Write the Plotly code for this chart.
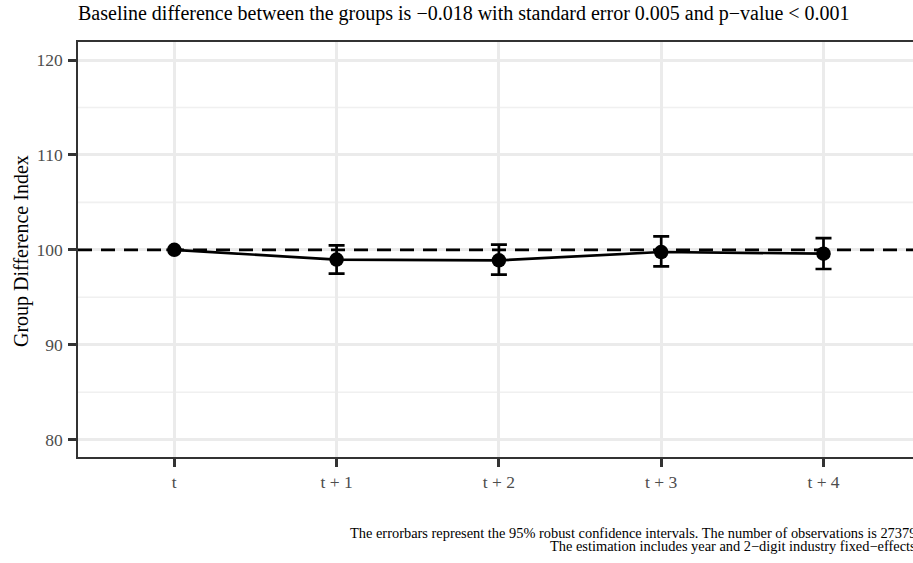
import plotly.graph_objects as go

periods = ["t", "t + 1", "t + 2", "t + 3", "t + 4"]
index_values = [100.0, 98.97, 98.89, 99.77, 99.60]
ci_upper = [100.0, 100.47, 100.55, 101.42, 101.24]
ci_lower = [100.0, 97.49, 97.39, 98.26, 97.98]
y_ticks = [80, 90, 100, 110, 120]
y_minor = [85, 95, 105, 115]
baseline = 100

title_text = "Baseline difference between the groups is \u22120.018 with standard error 0.005 and p\u2212value < 0.001"
y_title = "Group Difference Index"
caption_1 = "The errorbars represent the 95% robust confidence intervals. The number of observations is 27379"
caption_2 = "The estimation includes year and 2\u2212digit industry fixed\u2212effects"

xpos = list(range(1, len(periods) + 1))
err_plus = [u - v for u, v in zip(ci_upper, index_values)]
err_minus = [v - l for v, l in zip(index_values, ci_lower)]

W, H = 913, 563
ml, mt, mb = 78, 42, 563 - 457
pw, ph = W - ml, H - mt - mb
px_per_unit = 162.3
x_left = 1 - (174.3 - ml) / px_per_unit
x_right = x_left + pw / px_per_unit


def px_x(p):
    return (p - ml) / pw


def px_y(p):
    return (H - mb - p) / ph


fig = go.Figure()

# minor grid lines
for v in y_minor:
    fig.add_shape(type="line", xref="paper", x0=0, x1=1, yref="y", y0=v, y1=v,
                  line=dict(color="#f0f0f0", width=1.6), layer="below")

# baseline dashed line
fig.add_trace(go.Scatter(
    x=[x_left, x_right], y=[baseline, baseline], mode="lines",
    line=dict(color="black", width=2.8, dash="14px,9px"),
    hoverinfo="skip", showlegend=False))

fig.add_trace(go.Scatter(
    x=xpos, y=index_values, mode="lines+markers",
    line=dict(color="black", width=2.7),
    marker=dict(color="black", size=14.5),
    error_y=dict(type="data", symmetric=False, array=err_plus, arrayminus=err_minus,
                 color="black", thickness=2.7, width=8),
    showlegend=False, cliponaxis=False))

fig.update_layout(
    width=W, height=H,
    margin=dict(l=ml, r=0, t=mt, b=mb),
    plot_bgcolor="white", paper_bgcolor="white",
    font=dict(family="Liberation Serif", color="#4d4d4d"),
    xaxis=dict(range=[x_left, x_right], tickvals=xpos, ticktext=periods,
               showgrid=True, gridcolor="#ebebeb", gridwidth=3, zeroline=False,
               showline=True, linecolor="#333333", linewidth=1.7, mirror=True,
               ticks="outside", ticklen=8, tickwidth=2.7, tickcolor="#333333",
               tickfont=dict(size=17.5, color="#4d4d4d")),
    yaxis=dict(range=[78.17, 121.9], tickvals=y_ticks,
               showgrid=True, gridcolor="#ebebeb", gridwidth=3, zeroline=False,
               showline=True, linecolor="#333333", linewidth=1.7,
               ticks="outside", ticklen=8, tickwidth=2.7, tickcolor="#333333",
               ticklabelstandoff=2,
               tickfont=dict(size=17.5, color="#4d4d4d")),
)

fig.add_annotation(text=title_text, xref="paper", yref="paper", x=px_x(76),
                   y=px_y(13), xanchor="left", yanchor="middle",
                   showarrow=False, font=dict(size=20, color="black", family="Liberation Serif"))

fig.add_annotation(text=y_title, xref="paper", yref="paper", x=px_x(21), y=px_y(251),
                   xanchor="center", yanchor="middle", textangle=-90, showarrow=False,
                   font=dict(size=20, color="black", family="Liberation Serif"))

fig.add_annotation(text=caption_1, xref="paper", yref="paper",
                   x=px_x(918), y=px_y(533), xanchor="right", yanchor="middle",
                   showarrow=False, font=dict(size=14.4, color="black", family="Liberation Serif"))
fig.add_annotation(text=caption_2, xref="paper", yref="paper",
                   x=px_x(918), y=px_y(546), xanchor="right", yanchor="middle",
                   showarrow=False, font=dict(size=14.4, color="black", family="Liberation Serif"))

fig.write_html("out.html")
